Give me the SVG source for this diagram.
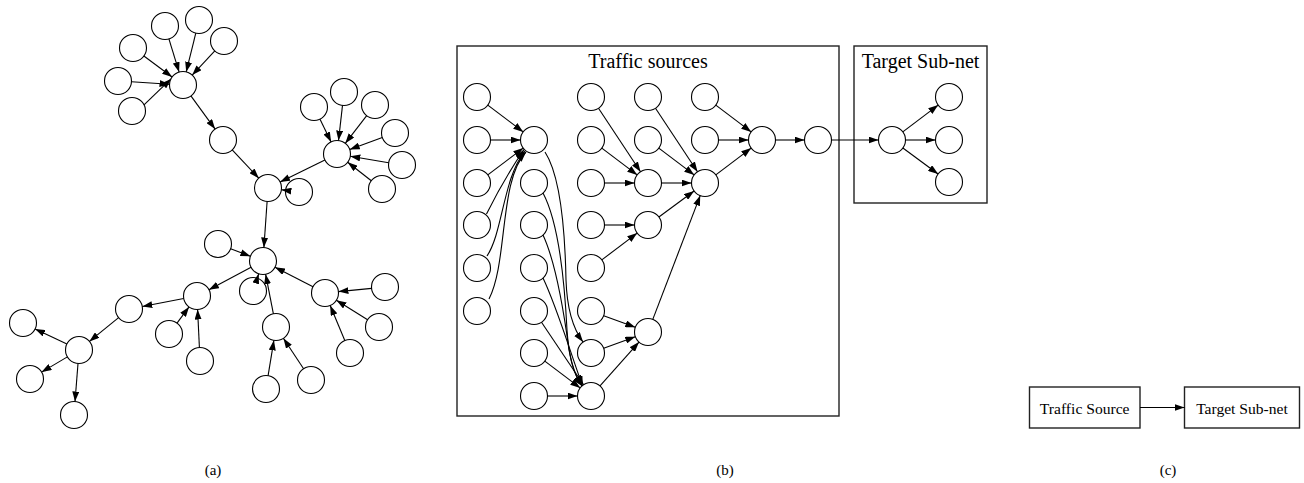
<svg xmlns="http://www.w3.org/2000/svg" width="1304" height="483" viewBox="0 0 1304 483">
<style>
.n{fill:#fff;stroke:#000;stroke-width:1.1}
.e{fill:none;stroke:#000;stroke-width:1.1;marker-end:url(#ah)}
.box{fill:none;stroke:#222;stroke-width:1.4}
.t{font-family:"Liberation Serif","Times New Roman",serif;fill:#000;text-anchor:middle}
</style>
<defs>
<marker id="ah" markerUnits="userSpaceOnUse" markerWidth="10" markerHeight="7" refX="10" refY="3.5" orient="auto"><path d="M0,0 L10,3.5 L0,7 z" fill="#000"/></marker>
</defs>
<rect width="1304" height="483" fill="#fff"/>

<!-- (b) boxes -->
<g id="traffic-sources-box"><rect class="box" x="457" y="46" width="382" height="370"/><text class="t" x="648" y="68" font-size="20">Traffic sources</text></g>
<g id="target-subnet-box"><rect class="box" x="854" y="46" width="133" height="157"/><text class="t" x="920.5" y="68" font-size="20">Target Sub-net</text></g>

<!-- (a) nodes -->
<g id="graph-a-nodes">
<g id="a_A"><circle class="n" cx="183" cy="85" r="13.5"/></g>
<g id="a_a1"><circle class="n" cx="165" cy="26" r="13.5"/></g>
<g id="a_a2"><circle class="n" cx="199" cy="20" r="13.5"/></g>
<g id="a_a3"><circle class="n" cx="224" cy="41" r="13.5"/></g>
<g id="a_a4"><circle class="n" cx="133" cy="48" r="13.5"/></g>
<g id="a_a5"><circle class="n" cx="118" cy="81" r="13.5"/></g>
<g id="a_a6"><circle class="n" cx="132" cy="111" r="13.5"/></g>
<g id="a_B"><circle class="n" cx="223" cy="140" r="13.5"/></g>
<g id="a_C"><circle class="n" cx="268" cy="188" r="13.5"/></g>
<g id="a_c1"><circle class="n" cx="299" cy="192" r="13.5"/></g>
<g id="a_D"><circle class="n" cx="337" cy="154" r="13.5"/></g>
<g id="a_d1"><circle class="n" cx="314" cy="107" r="13.5"/></g>
<g id="a_d2"><circle class="n" cx="344" cy="92" r="13.5"/></g>
<g id="a_d3"><circle class="n" cx="375" cy="105" r="13.5"/></g>
<g id="a_d4"><circle class="n" cx="395" cy="133" r="13.5"/></g>
<g id="a_d5"><circle class="n" cx="402" cy="165" r="13.5"/></g>
<g id="a_d6"><circle class="n" cx="382" cy="189" r="13.5"/></g>
<g id="a_E"><circle class="n" cx="263" cy="261" r="13.5"/></g>
<g id="a_e1"><circle class="n" cx="218" cy="244" r="13.5"/></g>
<g id="a_e2"><circle class="n" cx="253" cy="291" r="13.5"/></g>
<g id="a_F"><circle class="n" cx="197" cy="296" r="13.5"/></g>
<g id="a_f1"><circle class="n" cx="169" cy="334" r="13.5"/></g>
<g id="a_f2"><circle class="n" cx="200" cy="361" r="13.5"/></g>
<g id="a_G"><circle class="n" cx="129" cy="309" r="13.5"/></g>
<g id="a_H"><circle class="n" cx="79" cy="350" r="13.5"/></g>
<g id="a_h1"><circle class="n" cx="23" cy="323" r="13.5"/></g>
<g id="a_h2"><circle class="n" cx="30" cy="379" r="13.5"/></g>
<g id="a_h3"><circle class="n" cx="74" cy="415" r="13.5"/></g>
<g id="a_I"><circle class="n" cx="276" cy="327" r="13.5"/></g>
<g id="a_i1"><circle class="n" cx="266" cy="389" r="13.5"/></g>
<g id="a_i2"><circle class="n" cx="311" cy="380" r="13.5"/></g>
<g id="a_J"><circle class="n" cx="325" cy="293" r="13.5"/></g>
<g id="a_j1"><circle class="n" cx="385" cy="287" r="13.5"/></g>
<g id="a_j2"><circle class="n" cx="379" cy="327" r="13.5"/></g>
<g id="a_j3"><circle class="n" cx="350" cy="353" r="13.5"/></g>
</g>

<!-- (b) nodes -->
<g id="graph-b-nodes">
<g id="b_1_1"><circle class="n" cx="477" cy="97" r="13.5"/></g>
<g id="b_1_2"><circle class="n" cx="477" cy="140" r="13.5"/></g>
<g id="b_1_3"><circle class="n" cx="477" cy="183" r="13.5"/></g>
<g id="b_1_4"><circle class="n" cx="477" cy="225" r="13.5"/></g>
<g id="b_1_5"><circle class="n" cx="477" cy="268" r="13.5"/></g>
<g id="b_1_6"><circle class="n" cx="477" cy="311" r="13.5"/></g>
<g id="b_P"><circle class="n" cx="534" cy="140" r="13.5"/></g>
<g id="b_2_3"><circle class="n" cx="534" cy="183" r="13.5"/></g>
<g id="b_2_4"><circle class="n" cx="534" cy="225" r="13.5"/></g>
<g id="b_2_5"><circle class="n" cx="534" cy="268" r="13.5"/></g>
<g id="b_2_6"><circle class="n" cx="534" cy="311" r="13.5"/></g>
<g id="b_2_7"><circle class="n" cx="534" cy="353" r="13.5"/></g>
<g id="b_2_8"><circle class="n" cx="534" cy="396" r="13.5"/></g>
<g id="b_3_1"><circle class="n" cx="591" cy="97" r="13.5"/></g>
<g id="b_3_2"><circle class="n" cx="591" cy="140" r="13.5"/></g>
<g id="b_3_3"><circle class="n" cx="591" cy="183" r="13.5"/></g>
<g id="b_3_4"><circle class="n" cx="591" cy="225" r="13.5"/></g>
<g id="b_3_5"><circle class="n" cx="591" cy="268" r="13.5"/></g>
<g id="b_3_6"><circle class="n" cx="591" cy="311" r="13.5"/></g>
<g id="b_3_7"><circle class="n" cx="591" cy="353" r="13.5"/></g>
<g id="b_Q"><circle class="n" cx="591" cy="396" r="13.5"/></g>
<g id="b_4_1"><circle class="n" cx="648" cy="97" r="13.5"/></g>
<g id="b_4_2"><circle class="n" cx="648" cy="140" r="13.5"/></g>
<g id="b_R"><circle class="n" cx="648" cy="183" r="13.5"/></g>
<g id="b_S"><circle class="n" cx="648" cy="225" r="13.5"/></g>
<g id="b_T"><circle class="n" cx="648" cy="332" r="13.5"/></g>
<g id="b_5_1"><circle class="n" cx="705" cy="97" r="13.5"/></g>
<g id="b_5_2"><circle class="n" cx="705" cy="140" r="13.5"/></g>
<g id="b_U"><circle class="n" cx="705" cy="183" r="13.5"/></g>
<g id="b_V"><circle class="n" cx="762" cy="140" r="13.5"/></g>
<g id="b_W"><circle class="n" cx="818" cy="140" r="13.5"/></g>
<g id="b_X"><circle class="n" cx="892" cy="140" r="13.5"/></g>
<g id="b_x1"><circle class="n" cx="949" cy="97" r="13.5"/></g>
<g id="b_x2"><circle class="n" cx="949" cy="140" r="13.5"/></g>
<g id="b_x3"><circle class="n" cx="949" cy="182" r="13.5"/></g>
</g>

<!-- (c) nodes -->
<g id="c_source"><rect class="box" x="1029.5" y="387" width="110.5" height="41" stroke-width="1.2"/><text class="t" x="1084.7" y="413.5" font-size="15.6">Traffic Source</text></g>
<g id="c_target"><rect class="box" x="1184.5" y="387" width="115" height="41" stroke-width="1.2"/><text class="t" x="1242" y="413.5" font-size="15.6">Target Sub-net</text></g>

<!-- connectors -->
<g id="connectors">
<!-- (a) -->
<line class="e" x1="168.9" y1="38.9" x2="179.1" y2="72.1"/>
<line class="e" x1="195.8" y1="33.1" x2="186.2" y2="71.9"/>
<line class="e" x1="214.8" y1="50.9" x2="192.2" y2="75.1"/>
<line class="e" x1="143.9" y1="56" x2="172.1" y2="77"/>
<line class="e" x1="131.5" y1="81.8" x2="169.5" y2="84.2"/>
<line class="e" x1="144" y1="104.9" x2="171" y2="78.9"/>
<line class="e" x1="190.9" y1="95.9" x2="215.1" y2="129.1"/>
<line class="e" x1="232.2" y1="149.8" x2="258.8" y2="178.2"/>
<line class="e" x1="324.9" y1="160" x2="280.1" y2="182"/>
<line class="e" x1="285.6" y1="190.3" x2="281.4" y2="189.7"/>
<line class="e" x1="319.9" y1="119.1" x2="331.1" y2="141.9"/>
<line class="e" x1="342.5" y1="105.4" x2="338.5" y2="140.6"/>
<line class="e" x1="366.7" y1="115.7" x2="345.3" y2="143.3"/>
<line class="e" x1="382.3" y1="137.6" x2="349.7" y2="149.4"/>
<line class="e" x1="388.7" y1="162.7" x2="350.3" y2="156.3"/>
<line class="e" x1="371.3" y1="180.7" x2="347.7" y2="162.3"/>
<line class="e" x1="267.1" y1="201.5" x2="263.9" y2="247.5"/>
<line class="e" x1="230.6" y1="248.8" x2="250.4" y2="256.2"/>
<line class="e" x1="257.3" y1="278.2" x2="258.7" y2="273.8"/>
<line class="e" x1="273.4" y1="313.8" x2="265.6" y2="274.2"/>
<line class="e" x1="313" y1="286.8" x2="275" y2="267.2"/>
<line class="e" x1="251.1" y1="267.3" x2="208.9" y2="289.7"/>
<line class="e" x1="177" y1="323.1" x2="189" y2="306.9"/>
<line class="e" x1="199.4" y1="347.5" x2="197.6" y2="309.5"/>
<line class="e" x1="183.7" y1="298.5" x2="142.3" y2="306.5"/>
<line class="e" x1="118.6" y1="317.6" x2="89.4" y2="341.4"/>
<line class="e" x1="66.9" y1="344.1" x2="35.1" y2="328.9"/>
<line class="e" x1="67.4" y1="356.9" x2="41.6" y2="372.1"/>
<line class="e" x1="78" y1="363.5" x2="75" y2="401.5"/>
<line class="e" x1="268.1" y1="375.7" x2="273.9" y2="340.3"/>
<line class="e" x1="303.6" y1="368.7" x2="283.4" y2="338.3"/>
<line class="e" x1="371.6" y1="288.4" x2="338.4" y2="291.6"/>
<line class="e" x1="367.6" y1="319.8" x2="336.4" y2="300.2"/>
<line class="e" x1="344.8" y1="340.5" x2="330.2" y2="305.5"/>
<!-- (b) -->
<line class="e" x1="487.8" y1="105.1" x2="523.2" y2="131.9"/>
<line class="e" x1="490.5" y1="140" x2="520.5" y2="140"/>
<line class="e" x1="487.8" y1="174.9" x2="523.2" y2="148.1"/>
<path class="e" d="M486.5,214 C497,193 510,170 524,149.5"/>
<path class="e" d="M487,256 C503,232 503,178 525,151"/>
<path class="e" d="M489,299 C508,262 499,180 526,152"/>
<path class="e" d="M545,152 C560,175 565,230 566,280 C567,310 574,330 583,342"/>
<path class="e" d="M543,193 C560,225 565,290 567,330 C569,360 575,376 582,386"/>
<path class="e" d="M543,235 C557,265 565,320 569,350 C572,368 576,378 582,386"/>
<path class="e" d="M543,278 C556,305 568,345 582.5,386"/>
<line class="e" x1="541.5" y1="322.2" x2="583.5" y2="384.8"/>
<line class="e" x1="544.8" y1="361.1" x2="580.2" y2="387.9"/>
<line class="e" x1="547.5" y1="396" x2="577.5" y2="396"/>
<line class="e" x1="598.5" y1="108.2" x2="640.5" y2="171.8"/>
<line class="e" x1="601.8" y1="148.1" x2="637.2" y2="174.9"/>
<line class="e" x1="604.5" y1="183" x2="634.5" y2="183"/>
<line class="e" x1="655.5" y1="108.2" x2="697.5" y2="171.8"/>
<line class="e" x1="658.8" y1="148.1" x2="694.2" y2="174.9"/>
<line class="e" x1="661.5" y1="183" x2="691.5" y2="183"/>
<line class="e" x1="604.5" y1="225" x2="634.5" y2="225"/>
<line class="e" x1="601.8" y1="259.9" x2="637.2" y2="233.1"/>
<line class="e" x1="658.9" y1="217" x2="694.1" y2="191"/>
<line class="e" x1="652.8" y1="319.4" x2="700.2" y2="195.6"/>
<line class="e" x1="603.7" y1="315.7" x2="635.3" y2="327.3"/>
<line class="e" x1="603.7" y1="348.3" x2="635.3" y2="336.7"/>
<line class="e" x1="600" y1="385.9" x2="639" y2="342.1"/>
<line class="e" x1="715.8" y1="105.1" x2="751.2" y2="131.9"/>
<line class="e" x1="718.5" y1="140" x2="748.5" y2="140"/>
<line class="e" x1="715.8" y1="174.9" x2="751.2" y2="148.1"/>
<line class="e" x1="775.5" y1="140" x2="804.5" y2="140"/>
<line class="e" x1="831.5" y1="140" x2="878.5" y2="140"/>
<line class="e" x1="902.8" y1="131.9" x2="938.2" y2="105.1"/>
<line class="e" x1="905.5" y1="140" x2="935.5" y2="140"/>
<line class="e" x1="902.9" y1="148" x2="938.1" y2="174"/>
<!-- (c) -->
<line class="e" x1="1140" y1="407.5" x2="1184.5" y2="407.5"/>
</g>

<!-- captions -->
<g id="captions">
<text class="t" x="213" y="475" font-size="15">(a)</text>
<text class="t" x="725" y="475" font-size="15">(b)</text>
<text class="t" x="1168" y="475" font-size="15">(c)</text>
</g>
</svg>
